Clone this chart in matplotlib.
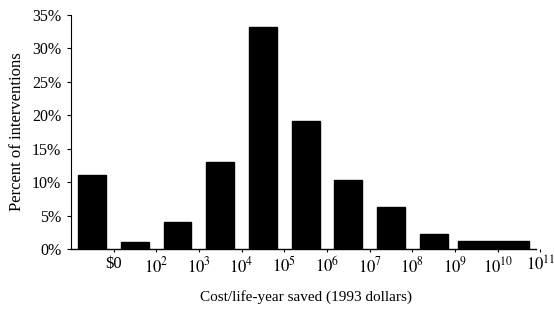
import matplotlib
matplotlib.use("Agg")
import matplotlib.pyplot as plt
from matplotlib.ticker import PercentFormatter

plt.rcParams['font.family'] = ['Liberation Serif', 'DejaVu Serif']
plt.rcParams['mathtext.fontset'] = 'stix'

# data
bar_centers = [0.5, 1.5, 2.5, 3.5, 4.5, 5.5, 6.5, 7.5, 8.5, 9.9]
bar_widths = [0.65, 0.65, 0.65, 0.65, 0.65, 0.65, 0.65, 0.65, 0.65, 1.67]
percent_values = [11.0, 1.0, 4.0, 13.0, 33.2, 19.2, 10.3, 6.3, 2.2, 1.2]
tick_positions = [1, 2, 3, 4, 5, 6, 7, 8, 9, 10, 11]
tick_labels = [r'\$0', r'$10^2$', r'$10^3$', r'$10^4$', r'$10^5$', r'$10^6$',
               r'$10^7$', r'$10^8$', r'$10^9$', r'$10^{10}$', r'$10^{11}$']
y_ticks = [0, 5, 10, 15, 20, 25, 30, 35]

fig = plt.figure(figsize=(5.54, 3.12), dpi=100)
ax = fig.add_axes([0.128, 0.202, 0.8475, 0.750])

ax.bar(bar_centers, percent_values, width=bar_widths, color='black', edgecolor='black')

ax.set_xlim(0, 11.0)
ax.set_ylim(0, 35)
ax.set_yticks(y_ticks)
ax.yaxis.set_major_formatter(PercentFormatter(decimals=0))
ax.set_xticks(tick_positions)
ax.set_xticklabels(tick_labels)

for s in ['top', 'right']:
    ax.spines[s].set_visible(False)
ax.spines['left'].set_linewidth(0.8)
ax.spines['bottom'].set_linewidth(1.0)
ax.spines['bottom'].set_bounds(0, 10.9)

ax.tick_params(axis='y', labelsize=11.5, length=3, width=0.8, pad=4)
ax.tick_params(axis='x', labelsize=12, length=2, width=0.8, pad=3)

ax.set_ylabel('Percent of interventions', fontsize=12, labelpad=5)
ax.set_xlabel('Cost/life-year saved (1993 dollars)', fontsize=11, labelpad=10)

fig.savefig('out.png', dpi=100)
